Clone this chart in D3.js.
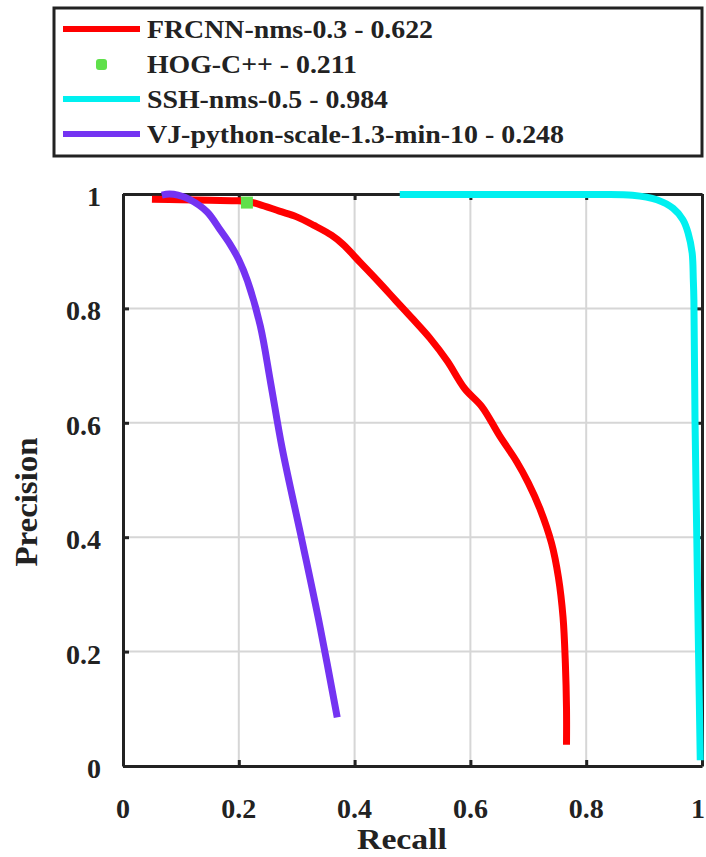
<!DOCTYPE html>
<html>
<head>
<meta charset="utf-8">
<script src="https://cdn.jsdelivr.net/npm/d3@7"></script>
<style>
  html, body { margin: 0; padding: 0; background: #fff; }
  svg { display: block; }
  text { font-family: "Liberation Serif", "Times New Roman", serif; font-weight: bold; fill: #222; }
</style>
</head>
<body>
<svg id="chart" width="706" height="857"></svg>
<script>
// Precision / recall curves of four face detectors
const frcnnRecall    = [0.050, 0.100, 0.150, 0.200, 0.215, 0.235, 0.270, 0.300, 0.330, 0.360, 0.380, 0.410, 0.440, 0.470, 0.500, 0.530, 0.560, 0.590, 0.620, 0.650, 0.680, 0.700, 0.720, 0.740, 0.752, 0.760, 0.764, 0.766, 0.766];
const frcnnPrecision = [0.991, 0.990, 0.989, 0.988, 0.987, 0.982, 0.970, 0.960, 0.945, 0.928, 0.912, 0.880, 0.848, 0.815, 0.782, 0.748, 0.708, 0.660, 0.628, 0.578, 0.532, 0.495, 0.450, 0.390, 0.330, 0.260, 0.180, 0.100, 0.037];

const hogRecall    = [0.214];
const hogPrecision = [0.985];

const sshRecall    = [0.478, 0.600, 0.700, 0.800, 0.880, 0.922, 0.950, 0.967, 0.976, 0.983, 0.985, 0.986, 0.988, 0.991, 0.994, 0.997];
const sshPrecision = [0.999, 0.999, 0.999, 0.999, 0.998, 0.990, 0.975, 0.955, 0.932, 0.897, 0.850, 0.815, 0.600, 0.400, 0.200, 0.010];

const vjRecall    = [0.067, 0.080, 0.095, 0.116, 0.145, 0.168, 0.185, 0.200, 0.215, 0.237, 0.255, 0.275, 0.310, 0.340, 0.370];
const vjPrecision = [0.998, 1.000, 0.998, 0.990, 0.969, 0.937, 0.912, 0.885, 0.848, 0.770, 0.670, 0.555, 0.390, 0.245, 0.085];

const legendLabels = ["FRCNN-nms-0.3 - 0.622", "HOG-C++ - 0.211", "SSH-nms-0.5 - 0.984", "VJ-python-scale-1.3-min-10 - 0.248"];
const tickValues = [0, 0.2, 0.4, 0.6, 0.8, 1];
const tickLabels = ["0", "0.2", "0.4", "0.6", "0.8", "1"];

const colors = { frcnn: "#ff0000", hog: "#5fe04a", ssh: "#00f0f0", vj: "#7433f2" };

const svg = d3.select("#chart");
const plot = { left: 123, right: 702, top: 194, bottom: 766 };

const x = d3.scaleLinear().domain([0, 1]).range([plot.left, plot.right]);
const y = d3.scaleLinear().domain([0, 1]).range([plot.bottom, plot.top]);

// grid
const grid = svg.append("g");
grid.selectAll("line.gx").data(tickValues.slice(1, -1)).join("line")
  .attr("x1", d => x(d)).attr("x2", d => x(d))
  .attr("y1", plot.top).attr("y2", plot.bottom)
  .attr("stroke", "#d6d6d6").attr("stroke-width", 2);
grid.selectAll("line.gy").data(tickValues.slice(1, -1)).join("line")
  .attr("x1", plot.left).attr("x2", plot.right)
  .attr("y1", d => y(d)).attr("y2", d => y(d))
  .attr("stroke", "#d6d6d6").attr("stroke-width", 2);

// axes box with inward ticks
const axisG = svg.append("g");
const xAxisB = d3.axisBottom(x).tickValues(tickValues).tickSizeInner(-6).tickSizeOuter(0).tickFormat("");
const xAxisT = d3.axisTop(x).tickValues(tickValues).tickSizeInner(-6).tickSizeOuter(0).tickFormat("");
const yAxisL = d3.axisLeft(y).tickValues(tickValues).tickSizeInner(-6).tickSizeOuter(0).tickFormat("");
const yAxisR = d3.axisRight(y).tickValues(tickValues).tickSizeInner(-6).tickSizeOuter(0).tickFormat("");
axisG.append("g").attr("transform", `translate(0,${plot.bottom})`).call(xAxisB);
axisG.append("g").attr("transform", `translate(0,${plot.top})`).call(xAxisT);
axisG.append("g").attr("transform", `translate(${plot.left},0)`).call(yAxisL);
axisG.append("g").attr("transform", `translate(${plot.right},0)`).call(yAxisR);
axisG.selectAll(".domain").attr("stroke", "#222").attr("stroke-width", 3);
axisG.selectAll(".tick line").attr("stroke", "#222").attr("stroke-width", 3);

// tick labels (the last x label is kept inside the page edge)
svg.append("g").selectAll("text").data(tickValues).join("text")
  .attr("x", d => d === 1 ? 705 : x(d)).attr("y", 818)
  .attr("text-anchor", d => d === 1 ? "end" : "middle").attr("font-size", 28)
  .text((d, i) => tickLabels[i]);
svg.append("g").selectAll("text").data(tickValues).join("text")
  .attr("x", 101).attr("y", d => y(d) + 12)
  .attr("text-anchor", "end").attr("font-size", 28)
  .text((d, i) => tickLabels[i]);

// axis titles
svg.append("text").attr("x", 402).attr("y", 849)
  .attr("text-anchor", "middle").attr("font-size", 29)
  .attr("textLength", 90).attr("lengthAdjust", "spacingAndGlyphs")
  .text("Recall");
svg.append("text").attr("transform", "translate(37,502) rotate(-90)")
  .attr("text-anchor", "middle").attr("font-size", 31)
  .attr("textLength", 129).attr("lengthAdjust", "spacingAndGlyphs")
  .text("Precision");

// curves
const line = d3.line().x(d => x(d[0])).y(d => y(d[1])).curve(d3.curveCatmullRom.alpha(0.5));
const curves = [
  { r: frcnnRecall, p: frcnnPrecision, c: colors.frcnn },
  { r: sshRecall, p: sshPrecision, c: colors.ssh },
  { r: vjRecall, p: vjPrecision, c: colors.vj }
];
const curveG = svg.append("g");
curves.forEach(s => {
  curveG.append("path")
    .datum(d3.zip(s.r, s.p))
    .attr("d", line)
    .attr("fill", "none")
    .attr("stroke", s.c)
    .attr("stroke-width", 7)
    .attr("stroke-linejoin", "round")
    .attr("stroke-linecap", "butt");
});
curveG.selectAll("rect.hog").data(d3.zip(hogRecall, hogPrecision)).join("rect")
  .attr("x", d => x(d[0]) - 6).attr("y", d => y(d[1]) - 6)
  .attr("width", 12).attr("height", 12)
  .attr("fill", colors.hog);

// legend
const legend = svg.append("g");
legend.append("rect").attr("x", 54).attr("y", 8).attr("width", 648).attr("height", 148)
  .attr("fill", "#fff").attr("stroke", "#222").attr("stroke-width", 3);
const legendBase = [38, 73, 108, 143];
const legendWidths = [286, 210, 241, 417];
const legendColors = [colors.frcnn, colors.hog, colors.ssh, colors.vj];
legendLabels.forEach((lab, i) => {
  const cy = legendBase[i] - 9;
  if (i === 1) {
    legend.append("rect").attr("x", 96).attr("y", cy - 5).attr("width", 11).attr("height", 11)
      .attr("rx", 3).attr("fill", legendColors[i]);
  } else {
    legend.append("line").attr("x1", 63).attr("x2", 140).attr("y1", cy).attr("y2", cy)
      .attr("stroke", legendColors[i]).attr("stroke-width", 6);
  }
  legend.append("text").attr("x", 147).attr("y", legendBase[i])
    .attr("font-size", 26)
    .attr("textLength", legendWidths[i]).attr("lengthAdjust", "spacingAndGlyphs")
    .text(lab);
});
</script>
</body>
</html>
